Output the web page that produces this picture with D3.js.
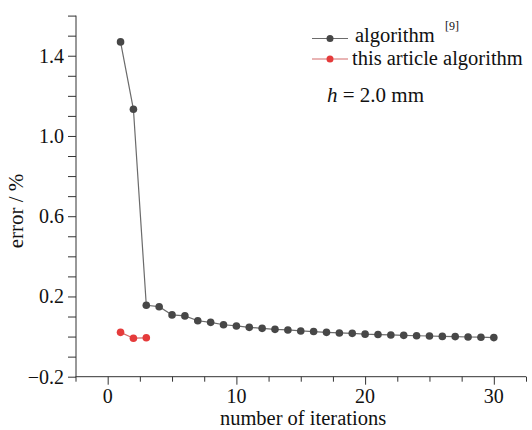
<!DOCTYPE html>
<html><head><meta charset="utf-8">
<script src="https://cdn.jsdelivr.net/npm/d3@7/dist/d3.min.js"></script>
<style>body{margin:0;background:#fff}svg{display:block}text{font-family:"Liberation Serif","Times New Roman",serif;fill:#111}</style>
</head><body>
<svg id="c" width="532" height="430"></svg>
<script>
const iterations = d3.range(1, 31);
const refAlgorithm = [1.469, 1.133, 0.156, 0.149, 0.108, 0.103, 0.079, 0.071, 0.059, 0.053,
  0.046, 0.041, 0.036, 0.033, 0.028, 0.025, 0.021, 0.018, 0.016, 0.012,
  0.010, 0.008, 0.006, 0.004, 0.003, 0.001, 0.000, -0.002, -0.003, -0.005];
const articleIter = [1, 2, 3];
const articleAlgorithm = [0.021, -0.008, -0.006];
const xTicks = [0, 10, 20, 30];
const yTicks = [-0.2, 0.2, 0.6, 1.0, 1.4];
const seriesNames = ["algorithm", "this article algorithm"];

const svg = d3.select("#c");
const x = d3.scaleLinear().domain([-2.5, 32.5]).range([75.5, 526]);
const y = d3.scaleLinear().domain([-0.2, 1.6]).range([376.7, 15.6]);
const axisColor = "#333";

// y axis
const yAx = svg.append("g").attr("transform", "translate(76,0)");
yAx.call(d3.axisLeft(y).tickValues(d3.range(-0.2, 1.601, 0.1)).tickSize(8).tickFormat(""));
yAx.call(g => g.selectAll(".tick text").remove());
yAx.selectAll("path,line").attr("stroke", axisColor);
yAx.select(".domain").attr("d", `M0,${y(1.6)}V${y(-0.2)}`);
yAx.selectAll(".tickl").data(yTicks).enter().append("text")
  .attr("x", -12).attr("y", d => y(d)).attr("dy", "0.35em")
  .attr("text-anchor", "end").attr("font-size", 20)
  .text(d => (d < 0 ? "\u2212" : "") + Math.abs(d).toFixed(1));

// x axis
const xAx = svg.append("g").attr("transform", `translate(0,${y(-0.2)})`);
xAx.call(d3.axisBottom(x).tickValues(d3.range(-2.5, 32.6, 2.5)).tickSize(5).tickFormat(""));
xAx.selectAll("path,line").attr("stroke", axisColor);
xAx.select(".domain").attr("d", `M${x(-2.5)},0H${x(32.5)}`);
xAx.selectAll(".tick line").filter(d => Math.abs(d % 10) < 1e-6).attr("y2", 8);
xAx.selectAll(".tickl").data(xTicks).enter().append("text")
  .attr("x", d => x(d)).attr("y", 26.5).attr("text-anchor", "middle").attr("font-size", 20)
  .text(d => d);

svg.append("text").attr("x", 303).attr("y", 425.3).attr("text-anchor", "middle")
  .attr("font-size", 20.5).text("number of iterations");
svg.append("text").attr("transform", "translate(23,211) rotate(-90)").attr("text-anchor", "middle")
  .attr("font-size", 21).text("error  / %");

// series
const line = d3.line().x(d => x(d[0])).y(d => y(d[1]));
const refData = iterations.map((it, i) => [it, refAlgorithm[i]]);
const artData = articleIter.map((it, i) => [it, articleAlgorithm[i]]);
const colors = {ref: {line: "#6b6b6b", dot: "#474747"}, art: {line: "#d46a6a", dot: "#e53b3b"}};

svg.append("path").datum(refData).attr("d", line).attr("fill", "none").attr("stroke", colors.ref.line).attr("stroke-width", 1.2);
svg.selectAll(".dr").data(refData).enter().append("circle")
  .attr("cx", d => x(d[0])).attr("cy", d => y(d[1])).attr("r", 3.8).attr("fill", colors.ref.dot);
svg.append("path").datum(artData).attr("d", line).attr("fill", "none").attr("stroke", colors.art.line).attr("stroke-width", 1.2);
svg.selectAll(".da").data(artData).enter().append("circle")
  .attr("cx", d => x(d[0])).attr("cy", d => y(d[1])).attr("r", 3.8).attr("fill", colors.art.dot);

// legend
const leg = [{n: seriesNames[0], c: colors.ref, y: 38.5, ty: 42, tx: 355}, {n: seriesNames[1], c: colors.art, y: 59, ty: 64.5, tx: 352}];
leg.forEach(l => {
  svg.append("line").attr("x1", 312).attr("x2", 348).attr("y1", l.y).attr("y2", l.y).attr("stroke", l.c.line).attr("stroke-width", 1.2);
  svg.append("circle").attr("cx", 330).attr("cy", l.y).attr("r", 3.5).attr("fill", l.c.dot);
  svg.append("text").attr("x", l.tx).attr("y", l.ty).attr("font-size", 20.5).text(l.n);
});
svg.append("text").attr("x", 445).attr("y", 30).attr("font-size", 12).style("fill", "#111").text("[9]");
const ht = svg.append("text").attr("x", 327).attr("y", 102).attr("font-size", 21);
ht.append("tspan").attr("font-style", "italic").text("h");
ht.append("tspan").text(" = 2.0 mm");
</script>
</body></html>
